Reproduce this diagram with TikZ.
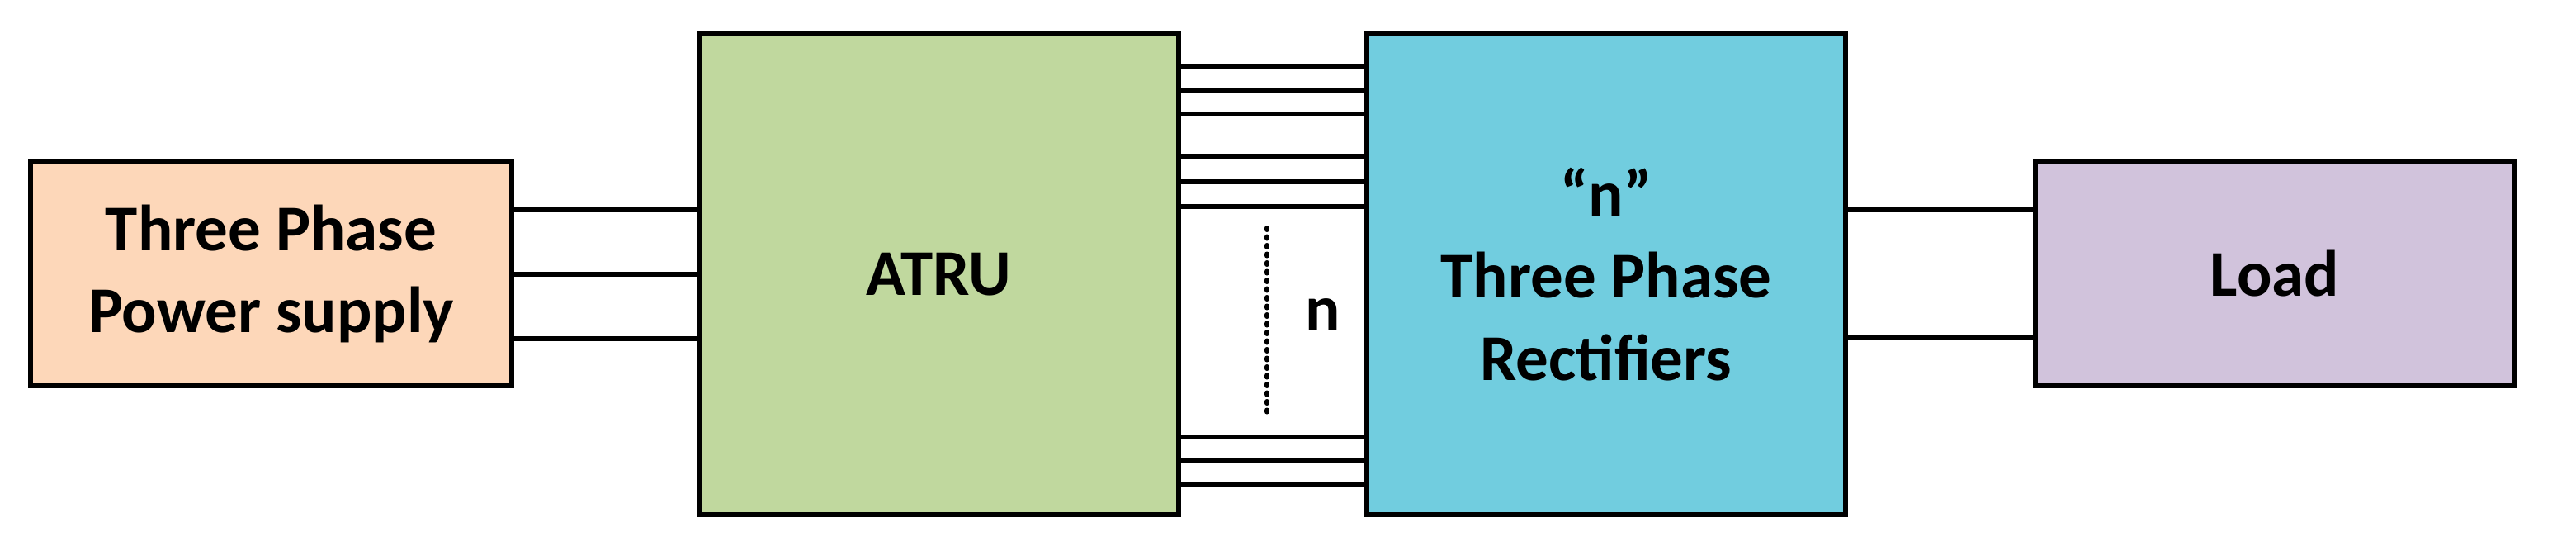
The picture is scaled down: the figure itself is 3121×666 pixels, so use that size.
\documentclass[tikz,border=0pt]{standalone}
\usepackage{fontspec}
\setmainfont{Carlito}
\usepackage{tikz}

\definecolor{supplyfill}{RGB}{253,215,185}
\definecolor{atrufill}{RGB}{192,216,158}
\definecolor{rectfill}{RGB}{113,205,223}
\definecolor{loadfill}{RGB}{209,195,220}

\tikzset{
    block/.style={draw, line width=0.6mm, align=center, inner sep=0pt,
        font=\fontsize{22.5}{28.2}\selectfont\bfseries},
    wire/.style={line width=0.6mm},
    dotline/.style={line width=0.6mm, line cap=round, dash pattern=on 0.2mm off 0.85mm}
}

\begin{document}
\begin{tikzpicture}[x=0.1mm,y=-0.1mm]

    \useasboundingbox (0,0) rectangle (3121,666);

    % Blocks
    \node[block, fill=supplyfill, minimum width=5.83cm, minimum height=2.71cm]
        (supply) at (328.5,331.5) {Three Phase\\Power supply};
    \node[block, fill=atrufill, minimum width=5.81cm, minimum height=5.82cm]
        (atru) at (1137.5,332) {ATRU};
    \node[block, fill=rectfill, minimum width=5.80cm, minimum height=5.82cm]
        (rectifiers) at (1946,332) {“n”\\Three Phase\\Rectifiers};
    \node[block, draw=none, fill=none] (nlabel) at (1603,381) {n};
    \node[block, fill=loadfill, minimum width=5.80cm, minimum height=2.71cm]
        (load) at (2756,331.5) {Load};

    % Three phase input
    \foreach \y in {254,332,410} {
        \draw[wire] (supply.east |- 0,\y) -- (atru.west |- 0,\y);
    }

    % n groups of three phases
    \foreach \y in {80,109,138,190,220,250,529,558,587} {
        \draw[wire] (atru.east |- 0,\y) -- (rectifiers.west |- 0,\y);
    }
    \draw[dotline] (1535,276) -- (1535,503);

    % DC output
    \foreach \y in {254,409} {
        \draw[wire] (rectifiers.east |- 0,\y) -- (load.west |- 0,\y);
    }

\end{tikzpicture}
\end{document}
